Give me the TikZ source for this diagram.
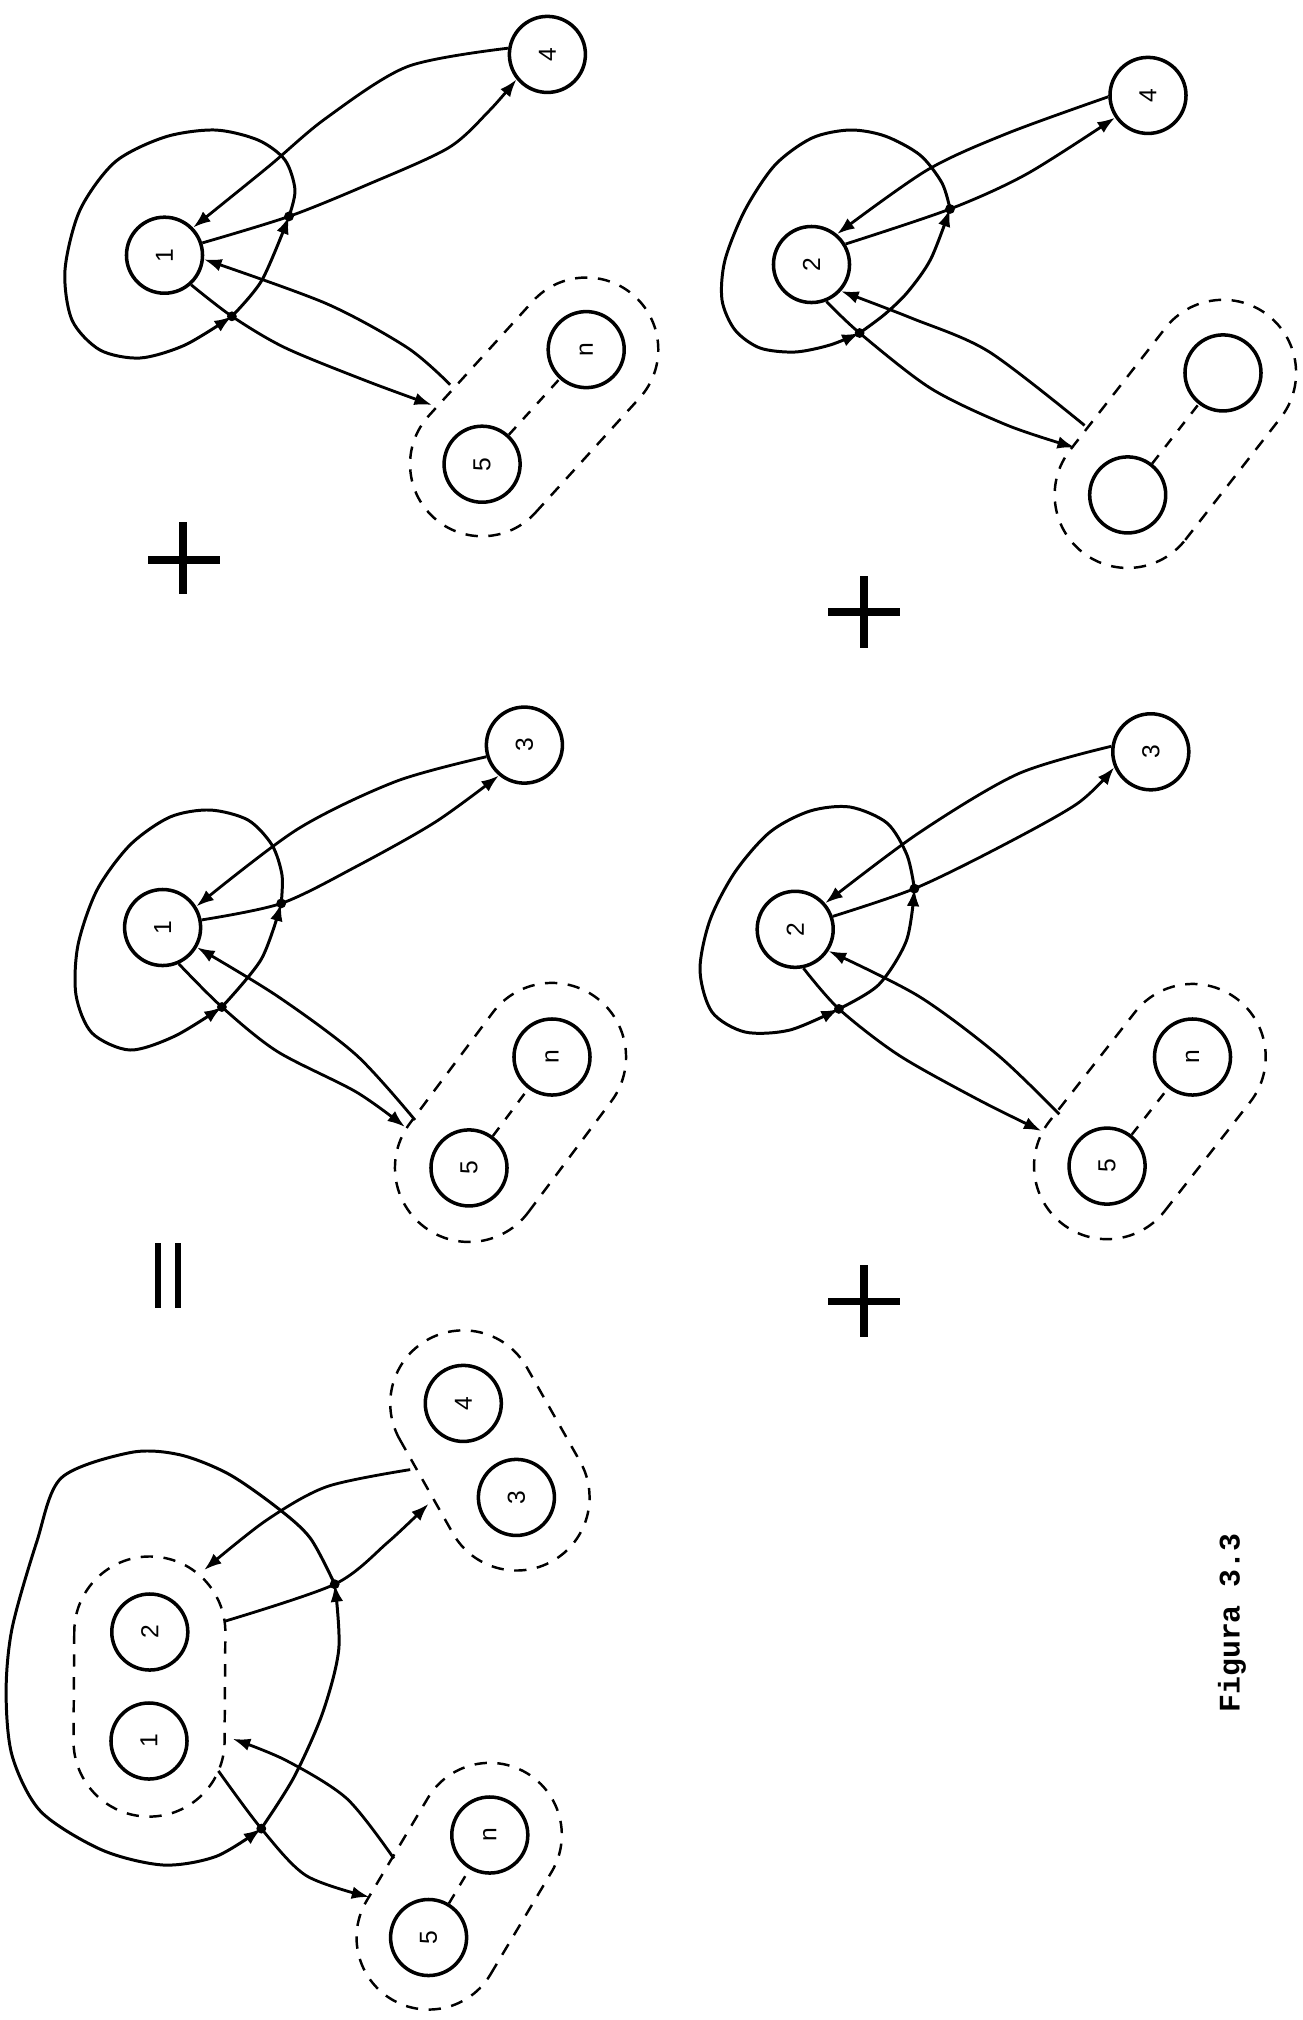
\documentclass[tikz,border=0pt]{standalone}
\usepackage{fontspec}
\usepackage{graphicx}
\newfontfamily\labfont{Liberation Sans}
\newfontfamily\capfont{Liberation Mono}
\usetikzlibrary{arrows.meta}
\newcommand\capsulepath[5]{%
  \begin{scope}[shift={(#1,#2)},rotate=#3]
    \draw[caps] (0cm,-#5cm) -- (#4cm,-#5cm) arc[start angle=-90,end angle=90,radius=#5cm]
      -- (0cm,#5cm) arc[start angle=90,end angle=270,radius=#5cm] -- cycle;
  \end{scope}}
\begin{document}
\begin{tikzpicture}[x=0.01cm,y=-0.01cm,
  circ/.style={draw,circle,minimum size=0.76cm,inner sep=0pt,line width=1pt,font=\labfont\fontsize{7}{8}\selectfont},
  arr/.style={line width=0.8pt,-{Latex[length=5pt,width=3.6pt]}},
  blob/.style={line width=0.85pt,-{Latex[length=5pt,width=3.6pt]}},
  caps/.style={line width=0.7pt,dash pattern=on 3.5pt off 3pt},
  conn/.style={line width=0.7pt,dash pattern=on 3pt off 3pt},
  sign/.style={line width=2pt},
  eqsign/.style={line width=1.8pt}]
\useasboundingbox (0,0) rectangle (1303,2020);

% ---------- Diagram A (1,4,5,n) ----------
\node[circ] (a1) at (164.5,255.2) {\rotatebox{90}{1}};
\node[circ] (a4) at (547.4,54.4) {\rotatebox{90}{4}};
\node[circ] (a5) at (482.1,464.2) {\rotatebox{90}{5}};
\node[circ] (an) at (586.2,349.6) {\rotatebox{90}{n}};
\capsulepath{482.1}{464.2}{47.75}{1.548}{0.72}
\draw[conn] (a5) -- (an);
\coordinate (aT) at (289,216.4);
\coordinate (aB) at (231.9,316.3);
\coordinate (aP) at (450.2,384.7);
\coordinate (aQ) at (432,405);
\draw[blob] plot[smooth] coordinates {(aT) (295,190) (285,160) (258,140) (215,130) (165,137) (115,162) (80,210) (65,270) (72,320) (100,350) (140,358) (185,345) (aB)};
\draw[blob] plot[smooth] coordinates {(aB) (262,280) (aT)};
\draw[arr] plot[smooth] coordinates {(a4.171) (407.4,66.6) (325.7,118.4) (268.6,166.5) (a1.44)};
\draw[arr] plot[smooth] coordinates {(a1.18) (aT) (366.6,185) (448.2,148) (489,111) (a4.219)};
\draw[arr] plot[smooth] coordinates {(aP) (407.4,347.7) (325.7,303.3) (a1.354)};
\draw[arr] plot[smooth] coordinates {(a1.312) (aB) (285,347.7) (366.6,381) (aQ)};
\fill (aT) circle[radius=1.4pt];
\fill (aB) circle[radius=1.4pt];

% ---------- Diagram B (2,4, empty) ----------
\node[circ] (b2) at (811.5,264.5) {\rotatebox{90}{2}};
\node[circ] (b4) at (1148,95.4) {\rotatebox{90}{4}};
\node[circ] (bx) at (1127.7,494.9) {};
\node[circ] (by) at (1223,372.9) {};
\capsulepath{1127.7}{494.9}{52.0}{1.548}{0.73}
\draw[conn] (bx) -- (by);
\coordinate (bT) at (950,209);
\coordinate (bB) at (859.6,333);
\coordinate (bP) at (1084.6,425.4);
\coordinate (bQ) at (1075,447.6);
\draw[blob] plot[smooth] coordinates {(bT) (942,183) (920,155) (885,136) (850,130) (812,138) (775,165) (745,210) (725,260) (722,300) (735,330) (760,348) (795,352) (830,345) (bB)};
\draw[blob] plot[smooth] coordinates {(bB) (884.6,314.4) (907.7,292) (930.8,259) (bT)};
\draw[arr] plot[smooth] coordinates {(b4.182) (1007.7,133.2) (926.9,170.2) (b2.50)};
\draw[arr] plot[smooth] coordinates {(b2.31) (bT) (1026.9,173.9) (b4.214)};
\draw[arr] plot[smooth] coordinates {(bP) (988.5,351.4) (911.5,318.1) (b2.318)};
\draw[arr] plot[smooth] coordinates {(b2.292) (bB) (930.8,388.4) (1007.7,425.4) (bQ)};
\fill (bT) circle[radius=1.4pt];
\fill (bB) circle[radius=1.4pt];

% ---------- Diagram C (1,3,5,n) ----------
\node[circ] (c1) at (162.6,927.5) {\rotatebox{90}{1}};
\node[circ] (c3) at (524.4,745.1) {\rotatebox{90}{3}};
\node[circ] (c5) at (469,1167.9) {\rotatebox{90}{5}};
\node[circ] (cn) at (552,1057) {\rotatebox{90}{n}};
\capsulepath{469}{1167.9}{53.2}{1.385}{0.74}
\draw[conn] (c5) -- (cn);
\coordinate (cT) at (281.2,903.4);
\coordinate (cB) at (221.9,1007);
\coordinate (cP) at (415,1120);
\coordinate (cQ) at (405,1127);
\draw[blob] plot[smooth] coordinates {(cT) (282,875) (272,845) (248,820) (210,810) (170,817) (130,845) (97,890) (78,945) (76,995) (92,1033) (130,1050) (175,1036) (cB)};
\draw[blob] plot[smooth] coordinates {(cB) (261.4,959) (cT)};
\draw[arr] plot[smooth] coordinates {(c3.197) (395.9,781.4) (297,829.5) (c1.32)};
\draw[arr] plot[smooth] coordinates {(c1.11) (cT) (356.3,866.5) (435.4,822) (c3.230)};
\draw[arr] plot[smooth] coordinates {(cP) (356.3,1055) (277.2,996) (c1.330)};
\draw[arr] plot[smooth] coordinates {(c1.294) (cB) (277.2,1051.4) (356.3,1092) (cQ)};
\fill (cT) circle[radius=1.4pt];
\fill (cB) circle[radius=1.4pt];

% ---------- Diagram D (2,3,5,n) ----------
\node[circ] (d2) at (795.2,929.3) {\rotatebox{90}{2}};
\node[circ] (d3) at (1150.8,751.8) {\rotatebox{90}{3}};
\node[circ] (d5) at (1107.1,1166.1) {\rotatebox{90}{5}};
\node[circ] (dn) at (1192.5,1057) {\rotatebox{90}{n}};
\capsulepath{1107.1}{1166.1}{51.9}{1.386}{0.73}
\draw[conn] (d5) -- (dn);
\coordinate (dT) at (914.4,888.6);
\coordinate (dB) at (838.9,1008.9);
\coordinate (dP) at (1059.4,1114.3);
\coordinate (dQ) at (1041.5,1131);
\draw[blob] plot[smooth] coordinates {(dT) (907,855) (887,823) (850,807) (810,811) (770,832) (735,872) (710,920) (700,970) (712,1012) (745,1032) (790,1030) (dB)};
\draw[blob] plot[smooth] coordinates {(dB) (878.6,984.8) (906.5,940.4) (dT)};
\draw[arr] plot[smooth] coordinates {(d3.172) (1017.7,774) (918.4,833.2) (d2.41)};
\draw[arr] plot[smooth] coordinates {(d2.19) (dT) (997.8,848) (1077.3,803.6) (d3.203)};
\draw[arr] plot[smooth] coordinates {(dP) (997.8,1055) (918.4,996) (d2.327)};
\draw[arr] plot[smooth] coordinates {(d2.282) (dB) (898.5,1055) (978,1099.5) (dQ)};
\fill (dT) circle[radius=1.4pt];
\fill (dB) circle[radius=1.4pt];

% ---------- Diagram E (1,2 | 3,4 | 5,n) ----------
\node[circ] (e1) at (149,1741) {\rotatebox{90}{1}};
\node[circ] (e2) at (149.8,1632) {\rotatebox{90}{2}};
\node[circ] (e4) at (463.3,1403.4) {\rotatebox{90}{4}};
\node[circ] (e3) at (516.4,1497.4) {\rotatebox{90}{3}};
\node[circ] (e5) at (428.6,1937.5) {\rotatebox{90}{5}};
\node[circ] (en) at (489.8,1835) {\rotatebox{90}{n}};
\capsulepath{149.8}{1632}{-90.4}{1.09}{0.755}
\capsulepath{463.3}{1403.4}{-60.5}{1.08}{0.73}
\capsulepath{428.6}{1937.5}{59.2}{1.194}{0.72}
\draw[conn] (e5) -- (en);
\coordinate (eT) at (334.7,1584.2);
\coordinate (eB) at (261.3,1828.6);
\coordinate (eA1) at (204.1,1570);
\coordinate (eA2) at (224.5,1621.3);
\coordinate (eA3) at (232.7,1738.8);
\coordinate (eA4) at (218.4,1770.9);
\coordinate (eP) at (410.2,1469.6);
\coordinate (eQ) at (428.6,1503.8);
\coordinate (eR) at (393.9,1858.5);
\coordinate (eS) at (369.4,1897);
\draw[blob] plot[smooth] coordinates {(eT) (310.2,1538) (277.6,1508) (228.6,1474) (179.6,1454.7) (130.6,1452.5) (61.2,1478) (36.7,1542) (12.2,1627.7) (6.1,1691.8) (12.2,1756) (40.8,1811.5) (102,1850) (163.3,1865) (216.3,1856.3) (eB)};
\draw[blob] plot[smooth] coordinates {(eB) (293.9,1777.3) (322.5,1713.2) (338.8,1649) (eT)};
\draw[arr] plot[smooth] coordinates {(eP) (326.6,1486.7) (265.3,1521) (eA1)};
\draw[arr] plot[smooth] coordinates {(eA2) (eT) (387.8,1542.3) (eQ)};
\draw[arr] plot[smooth] coordinates {(eR) (347,1798.7) (285.7,1760.2) (eA3)};
\draw[arr] plot[smooth] coordinates {(eA4) (eB) (306.2,1875.6) (eS)};
\fill (eT) circle[radius=1.4pt];
\fill (eB) circle[radius=1.4pt];

% ---------- signs ----------
\draw[sign] (148,560) -- (220,560);
\draw[sign] (183,522) -- (183,594);
\draw[sign] (828,612) -- (900,612);
\draw[sign] (864,576) -- (864,648);
\draw[sign] (828,1301) -- (900,1301);
\draw[sign] (864,1265) -- (864,1337);
\draw[eqsign] (158,1243) -- (158,1308);
\draw[eqsign] (178,1243) -- (178,1308);

\node[rotate=90,font=\capfont\bfseries\fontsize{8.5}{10}\selectfont] (fig) at (1232,1623) {Figura 3.3};
\end{tikzpicture}
\end{document}
